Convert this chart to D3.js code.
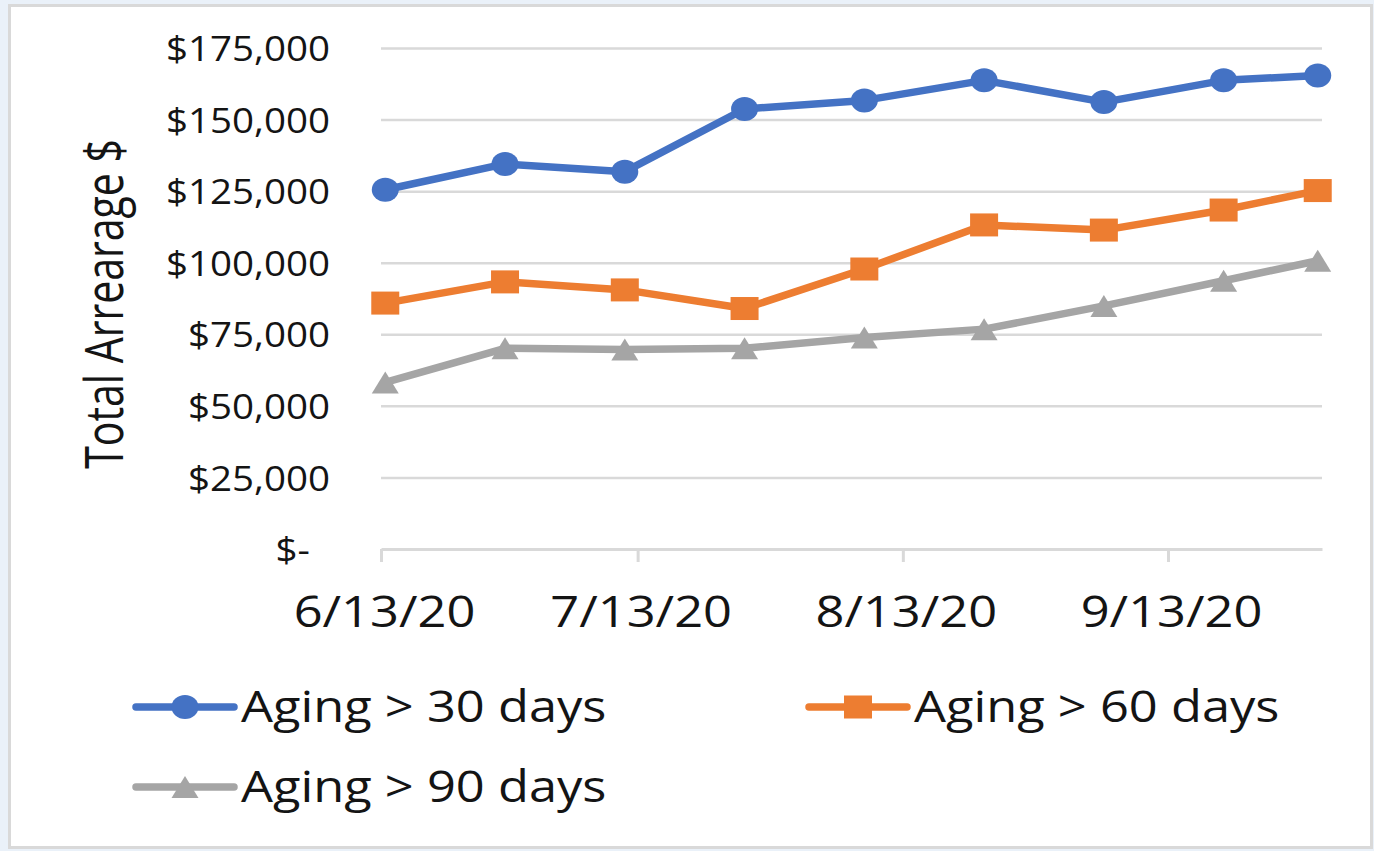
<!DOCTYPE html>
<html>
<head>
<meta charset="utf-8">
<script src="https://cdn.jsdelivr.net/npm/d3@7"></script>
<style>
  html, body { margin: 0; padding: 0; background: #eaf1f9; }
  svg { display: block; }
  text { font-family: 'Open Sans', sans-serif; fill: #141414; }
</style>
</head>
<body>
<div id="wrapper"></div>
<script>
// Data
const dates = ['2020-06-13', '2020-06-27', '2020-07-11', '2020-07-25', '2020-08-08',
  '2020-08-22', '2020-09-05', '2020-09-19', '2020-09-30'];
const aging30 = [125500, 134500, 131800, 153700, 156700, 163700, 156100, 163700, 165400];
const aging60 = [85900, 93300, 90500, 84000, 97800, 113200, 111400, 118400, 125200];
const aging90 = [58200, 70100, 69700, 70100, 73900, 76800, 84900, 93700, 100700];
const seriesNames = ['Aging > 30 days', 'Aging > 60 days', 'Aging > 90 days'];
const xTickLabels = ['2020-06-13', '2020-07-13', '2020-08-13', '2020-09-13'];
const yTickValues = [0, 25000, 50000, 75000, 100000, 125000, 150000, 175000];
const xDomain = ['2020-06-13', '2020-10-01'];

function drawChart() {
  const parseDate = d3.timeParse('%Y-%m-%d');
  const stretch = 1.15; // the picture is a little wide, text is stretched to match

  const dimensions = {
    width: 1374,
    height: 851,
    margin: { top: 48, right: 52, bottom: 302, left: 381 },
  };
  dimensions.boundedWidth =
    dimensions.width - dimensions.margin.left - dimensions.margin.right;
  dimensions.boundedHeight =
    dimensions.height - dimensions.margin.top - dimensions.margin.bottom;

  const colors = ['#4472c4', '#ed7d31', '#a5a5a5'];
  const values = [aging30, aging60, aging90];
  const series = values.map((vals, i) => ({
    name: seriesNames[i],
    color: colors[i],
    marker: ['circle', 'square', 'triangle'][i],
    points: vals.map((v, j) => ({ date: parseDate(dates[j]), value: v })),
  }));

  // scales
  const xScale = d3
    .scaleTime()
    .domain(xDomain.map(parseDate))
    .range([0, dimensions.boundedWidth]);
  const yScale = d3
    .scaleLinear()
    .domain([0, 175000])
    .range([dimensions.boundedHeight, 0]);

  // points sit in the middle of their day
  const xAccessor = (d) => xScale(d3.timeHour.offset(d.date, 12));
  const yAccessor = (d) => yScale(d.value);

  const wrapper = d3
    .select('#wrapper')
    .append('svg')
    .attr('width', dimensions.width)
    .attr('height', dimensions.height);

  // chart frame
  wrapper
    .append('rect')
    .attr('x', 9.5)
    .attr('y', 5.5)
    .attr('width', 1362)
    .attr('height', 842)
    .attr('fill', '#fff')
    .attr('stroke', '#d9d9d9')
    .attr('stroke-width', 3);

  const bounds = wrapper
    .append('g')
    .attr('transform', `translate(${dimensions.margin.left}, ${dimensions.margin.top})`);

  // gridlines
  const grid = bounds
    .append('g')
    .call(
      d3.axisLeft(yScale)
        .tickValues(yTickValues.filter((d) => d > 0))
        .tickSize(-dimensions.boundedWidth)
        .tickFormat('')
    );
  grid.select('.domain').remove();
  grid.selectAll('.tick line')
    .attr('stroke', '#d9d9d9')
    .attr('stroke-width', 2.5);

  // y axis labels
  const yAxis = bounds
    .append('g')
    .call(
      d3.axisLeft(yScale)
        .tickValues(yTickValues)
        .tickSize(0)
        .tickPadding(0)
        .tickFormat((d) => (d === 0 ? '$-' : '$' + d3.format(',')(d)))
    );
  yAxis.select('.domain').remove();
  yAxis.selectAll('.tick text')
    .attr('x', 0)
    .attr('dy', '0.36em')
    .attr('text-anchor', 'end')
    .attr('transform', (d) => `translate(${d === 0 ? -71 : -51}, 0) scale(1.1, 1)`)
    .style('font-size', '35px')
    .style('font-family', "'Open Sans', sans-serif")
    .attr('fill', '#141414');

  // x axis
  const xAxis = bounds
    .append('g')
    .attr('transform', `translate(0, ${dimensions.boundedHeight})`)
    .call(
      d3.axisBottom(xScale)
        .tickValues(xTickLabels.map(parseDate))
        .tickSize(13)
        .tickSizeOuter(0)
        .tickFormat(d3.timeFormat('%-m/%-d/%y'))
    );
  xAxis.select('.domain')
    .attr('stroke', '#d9d9d9')
    .attr('stroke-width', 3);
  xAxis.selectAll('.tick line')
    .attr('stroke', '#d9d9d9')
    .attr('stroke-width', 3);
  xAxis.selectAll('.tick text')
    .attr('y', 0)
    .attr('dy', 0)
    .attr('transform', `translate(3, 78) scale(${stretch}, 1)`)
    .style('font-size', '44px')
    .style('font-family', "'Open Sans', sans-serif")
    .attr('fill', '#141414');

  // y axis title
  wrapper
    .append('text')
    .attr('text-anchor', 'middle')
    .attr('transform', `translate(123, 304) scale(1.3, 1) rotate(-90)`)
    .style('font-size', '41px')
    .text('Total Arrearage $');

  // markers
  const markerPath = {
    circle: (g, color) =>
      g.append('ellipse').attr('rx', 13.5).attr('ry', 12).attr('fill', color),
    square: (g, color) =>
      g.append('rect').attr('x', -14).attr('y', -11.5).attr('width', 28)
        .attr('height', 23).attr('fill', color),
    triangle: (g, color) =>
      g.append('path').attr('d', 'M0,-11L13.5,11L-13.5,11Z').attr('fill', color),
  };

  const lineGenerator = d3.line().x(xAccessor).y(yAccessor);

  // draw data
  series.forEach((s) => {
    bounds
      .append('path')
      .datum(s.points)
      .attr('d', lineGenerator)
      .attr('fill', 'none')
      .attr('stroke', s.color)
      .attr('stroke-width', 7.5)
      .attr('stroke-linejoin', 'round')
      .attr('stroke-linecap', 'round');

    bounds
      .append('g')
      .selectAll('g')
      .data(s.points)
      .join('g')
      .attr('transform', (d) => `translate(${xAccessor(d)}, ${yAccessor(d)})`)
      .each(function () {
        markerPath[s.marker](d3.select(this), s.color);
      });
  });

  // legend
  const legendPos = [
    { x: 133, y: 707 },
    { x: 806, y: 707 },
    { x: 133, y: 787 },
  ];
  const legend = wrapper.append('g').attr('id', 'legend');
  series.forEach((s, i) => {
    const item = legend
      .append('g')
      .attr('transform', `translate(${legendPos[i].x}, ${legendPos[i].y})`);
    item
      .append('line')
      .attr('x1', 3)
      .attr('x2', 101)
      .attr('stroke', s.color)
      .attr('stroke-width', 7.5)
      .attr('stroke-linecap', 'round');
    markerPath[s.marker](item.append('g').attr('transform', 'translate(52, 0)'), s.color);
    item
      .append('text')
      .attr('transform', `translate(108, 15) scale(${stretch}, 1)`)
      .style('font-size', '44px')
      .text(s.name);
  });
}
drawChart();
</script>
</body>
</html>
